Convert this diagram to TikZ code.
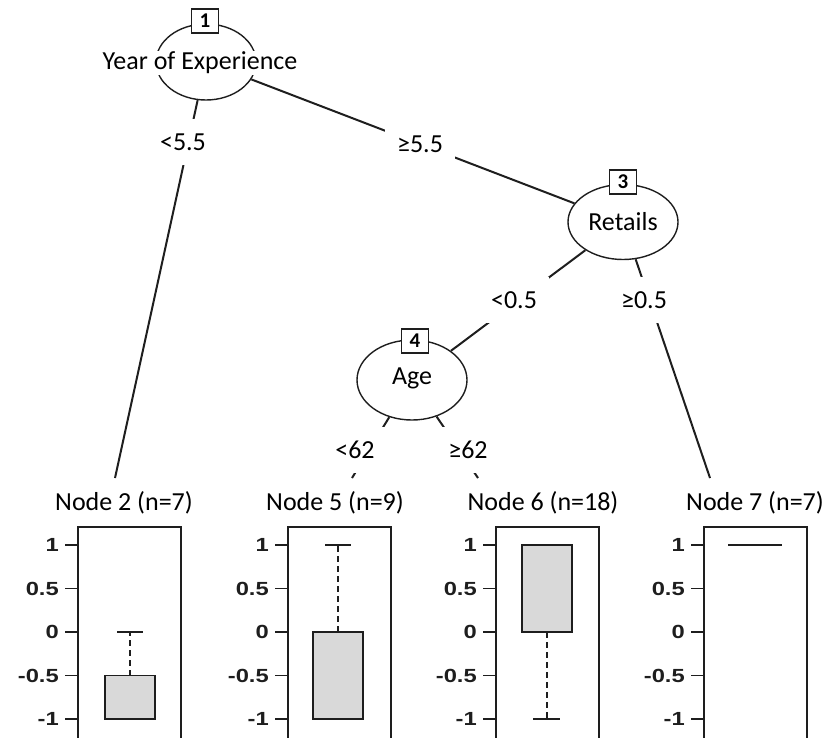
\documentclass[tikz,border=0pt]{standalone}
\usepackage{fontspec}
\setmainfont{Carlito}
\newfontfamily\axisfont{Liberation Sans}
\usetikzlibrary{shapes.geometric}
\definecolor{boxgray}{RGB}{217,217,217}
\definecolor{ink}{RGB}{30,30,30}
\tikzset{
  split/.style={ellipse, draw=ink, line width=1.4pt, inner sep=0pt},
  idbox/.style={draw=ink, fill=white, line width=1.5pt, inner sep=0pt,
    minimum width=27pt, minimum height=24pt, font=\fontsize{21}{22}\selectfont\bfseries},
  vartext/.style={fill=white, inner sep=1pt, font=\fontsize{26}{30}\selectfont},
  edge/.style={draw=ink, line width=2pt},
  elabel/.style={fill=white, inner xsep=12pt, inner ysep=2pt, minimum height=46pt,
    font=\fontsize{26}{30}\selectfont},
  paneltitle/.style={inner sep=2pt, font=\fontsize{26}{30}\selectfont},
  frame/.style={draw=ink, line width=1.8pt},
  tick/.style={draw=ink, line width=1.8pt},
  ticklabel/.style={anchor=east, inner sep=0pt, text=ink, font=\axisfont\bfseries\fontsize{19}{21}\selectfont},
  iqr/.style={draw=ink, fill=boxgray, line width=1.8pt},
  whisker/.style={draw=ink, line width=1.8pt, dash pattern=on 6pt off 4pt},
  wcap/.style={draw=ink, line width=1.8pt}
}
\begin{document}
\begin{tikzpicture}[x=1pt,y=-1pt]
\useasboundingbox (0,0) rectangle (838,737);

% inner split nodes
\node[split, minimum width=100pt, minimum height=76pt] (n1) at (206,62) {};
\node[split, minimum width=110pt, minimum height=75pt] (n3) at (623,222) {};
\node[split, minimum width=110pt, minimum height=80pt] (n4) at (412,380) {};

% where the edges meet the terminal panels
\coordinate (a2) at (115,478);
\coordinate (a5) at (352,478);
\coordinate (a6) at (478,478);
\coordinate (a7) at (710,478);

% edges
\draw[edge] (n1) -- (a2);
\draw[edge] (n1) -- (n3);
\draw[edge] (n3) -- (n4);
\draw[edge] (n3) -- (a7);
\draw[edge] (n4) -- (a5);
\draw[edge] (n4) -- (a6);

% split variables and node ids
\node[vartext] (v1) at (200,63) {Year of Experience};
\node[vartext] (v3) at (623,222) {Retails};
\node[vartext] (v4) at (412,378) {Age};
\node[idbox] (b1) at (205,21) {1};
\node[idbox] (b3) at (623,182) {3};
\node[idbox] (b4) at (415,341) {4};

% edge labels
\node[elabel] (e12) at (183,142) {<5.5};
\node[elabel] (e13) at (420,144) {≥5.5};
\node[elabel] (e34) at (514,300) {<0.5};
\node[elabel] (e37) at (644,300) {≥0.5};
\node[elabel] (e45) at (355,450) {<62};
\node[elabel] (e46) at (468,450) {≥62};

% terminal panel titles
\node[paneltitle] (t2) at (124,503) {Node 2 (n=7)};
\node[paneltitle] (t5) at (335,503) {Node 5 (n=9)};
\node[paneltitle] (t6) at (543,503) {Node 6 (n=18)};
\node[paneltitle] (t7) at (755,503) {Node 7 (n=7)};

% panel frames with y axes
\foreach \px/\pn in {78/2, 288/5, 496/6, 704/7}{
  \draw[frame] (\px,527) rectangle ({\px+103},760);
  \foreach \v/\lab in {1/1, 0.5/0.5, 0/0, -0.5/-0.5, -1/-1}{
    \pgfmathsetmacro{\yy}{632-87*\v}
    \draw[tick] ({\px-13},\yy) -- (\px,\yy);
    \node[ticklabel] (y\pn\lab) at ({\px-19},\yy) {\scalebox{1.25}[1]{\lab}};
  }
}

% Node 2 box plot
\draw[whisker] (130,675.5) -- (130,632);
\draw[wcap] (117,632) -- (143,632);
\draw[iqr] (105,675.5) rectangle (155,719);

% Node 5 box plot
\draw[whisker] (338,632) -- (338,545);
\draw[wcap] (325,545) -- (351,545);
\draw[iqr] (313,632) rectangle (363,719);

% Node 6 box plot
\draw[whisker] (547,632) -- (547,719);
\draw[wcap] (533,719) -- (560,719);
\draw[iqr] (522,545) rectangle (572,632);

% Node 7: all values at 1
\draw[wcap] (728,545) -- (782,545);
\end{tikzpicture}
\end{document}
